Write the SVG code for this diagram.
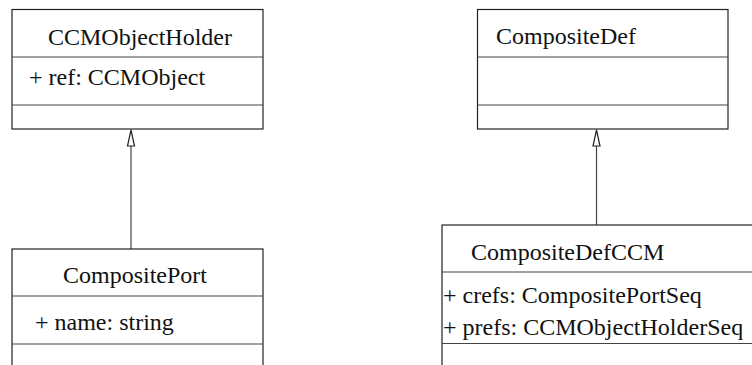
<svg xmlns="http://www.w3.org/2000/svg" width="752" height="365" viewBox="0 0 752 365">
<style>
.box{fill:#fff;stroke:#222;stroke-width:1.2}
.div{stroke:#444;stroke-width:1.2;fill:none}
.edge{stroke:#444;stroke-width:1.2;fill:none}
.head{fill:#fff;stroke:#222;stroke-width:1.2}
.t{font-family:"Liberation Serif","Times New Roman",serif;font-size:24px;fill:#111}
</style>
<rect width="752" height="365" fill="#fff"/>
<g id="edges">
<line class="edge" x1="131" y1="249" x2="131" y2="146"/>
<path class="head" d="M131,130 L134.5,146 L127.5,146 Z"/>
<line class="edge" x1="596.5" y1="225" x2="596.5" y2="146"/>
<path class="head" d="M596.5,130 L600,146 L593,146 Z"/>
</g>
<g id="CCMObjectHolder">
<rect class="box" x="12" y="9.5" width="251" height="119.5"/>
<path class="div" d="M12,57 H263 M12,105 H263"/>
<text class="t" x="48" y="45">CCMObjectHolder</text>
<text class="t" x="29" y="85">+ ref: CCMObject</text>
</g>
<g id="CompositePort">
<rect class="box" x="12" y="249" width="251" height="130"/>
<path class="div" d="M12,296 H263 M12,344 H263"/>
<text class="t" x="63" y="283">CompositePort</text>
<text class="t" x="35" y="330">+ name: string</text>
</g>
<g id="CompositeDef">
<rect class="box" x="477.5" y="9.5" width="250.5" height="119.5"/>
<path class="div" d="M477.5,57 H728 M477.5,105 H728"/>
<text class="t" x="496" y="44">CompositeDef</text>
</g>
<g id="CompositeDefCCM">
<rect class="box" x="442" y="225" width="330" height="160"/>
<path class="div" d="M442,272 H772 M442,343.5 H772"/>
<text class="t" x="471" y="260">CompositeDefCCM</text>
<text class="t" x="443" y="303">+ crefs: CompositePortSeq</text>
<text class="t" x="443" y="335">+ prefs: CCMObjectHolderSeq</text>
</g>
</svg>
